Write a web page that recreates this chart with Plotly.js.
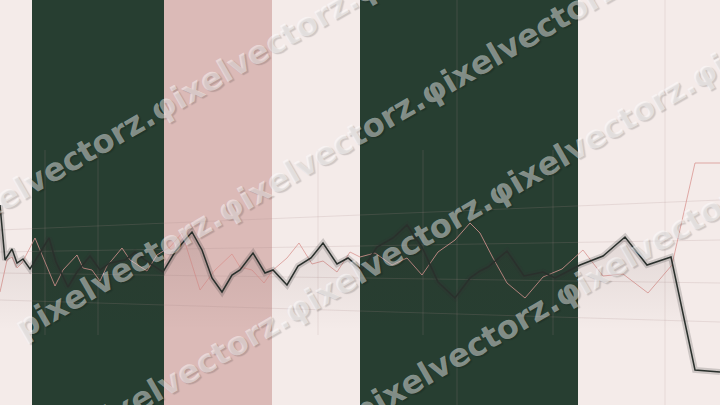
<!DOCTYPE html>
<html><head><meta charset="utf-8">
<script src="https://cdn.plot.ly/plotly-3.0.1.min.js"></script>
<style>html,body{margin:0;padding:0;background:#f4ebe9;overflow:hidden}#chart{width:720px;height:405px}</style>
</head><body><div id="chart"></div>
<script>
// Series (x along the strip, y = level above the bottom)
const xDark = [0,5,12,17,23,30,49,56,68,77,90,100,110,125,135,145,163,175,185,192,202,212,222,232,240,253,265,273,287,298,311,323,337,348,362,377,393,407,422,438,455,470,480,488,507,524,543,555,580,603,625,647,671,695,720];
const yDark = [200,145,156,142,146,136,167,143,118,133,149,135,142,145,153,145,133,153,165,173,155,127,113,130,135,152,132,135,120,139,147,162,141,147,135,158,167,180,158,123,107,127,134,138,154,129,133,127,140,149,168,140,148,35,33];
const xPink = [0,7,12,17,22,35,55,63,77,83,92,100,107,122,130,147,157,170,182,200,215,232,240,252,264,273,287,299,312,323,337,350,360,375,392,407,422,438,455,470,480,493,507,525,543,562,583,603,623,648,672,695,720];
const yPink = [113,145,148,137,142,167,119,135,150,137,135,124,139,157,145,134,150,158,172,115,135,151,138,135,122,135,147,162,141,144,133,153,148,152,140,147,130,153,165,182,172,147,122,107,128,136,155,129,131,112,140,242,242];
const watermarkText = 'pixelvectorz.φixelvectorz.φixelvectorz.φixelvectorz.';

const W = 720, H = 405;
const ANG = 30, FS = 32;
const ctx = document.createElement('canvas').getContext('2d');
ctx.font = 'bold ' + FS + 'px "DejaVu Sans"';
const textW = ctx.measureText(watermarkText).width;
const cosA = Math.cos(ANG*Math.PI/180), sinA = Math.sin(ANG*Math.PI/180);
const rowStarts = [[-49,229],[18,330],[85,431],[152,532]];
const annotations = rowStarts.map(([sx,sy]) => ({
  xref:'paper', yref:'paper',
  x:(sx + cosA*textW/2)/W, y:1 - (sy - sinA*textW/2)/H,
  xanchor:'center', yanchor:'middle', showarrow:false,
  text: watermarkText, textangle:-ANG,
  font:{family:'DejaVu Sans', size:FS, weight:700, color:'rgba(255,255,255,0.45)', shadow:'1px 2px 1px rgba(0,0,0,0.35)'}
}));

const gridCol = 'rgba(170,140,140,0.2)';
const shapes = [
  {type:'rect', xref:'x', yref:'paper', x0:32, x1:164, y0:0, y1:1, fillcolor:'#273e31', line:{width:0}, layer:'below'},
  {type:'rect', xref:'x', yref:'paper', x0:164, x1:272, y0:0, y1:1, fillcolor:'#dbbab7', line:{width:0}, layer:'below'},
  {type:'rect', xref:'x', yref:'paper', x0:360, x1:578, y0:0, y1:1, fillcolor:'#273e31', line:{width:0}, layer:'below'},
  {type:'line', xref:'x', yref:'y', x0:0, x1:720, y0:175, y1:205, line:{color:gridCol, width:1}, layer:'below'},
  {type:'line', xref:'x', yref:'y', x0:0, x1:720, y0:153, y1:165, line:{color:gridCol, width:1}, layer:'below'},
  {type:'line', xref:'x', yref:'y', x0:0, x1:720, y0:132, y1:122, line:{color:gridCol, width:1}, layer:'below'},
  {type:'line', xref:'x', yref:'y', x0:0, x1:720, y0:105, y1:83, line:{color:gridCol, width:1}, layer:'below'}
];
[45,98,318,423,553].forEach(v => shapes.push({type:'line', xref:'x', yref:'y', x0:v, x1:v, y0:70, y1:255, line:{color:gridCol, width:1}, layer:'below'}));
[457,665].forEach(v => shapes.push({type:'line', xref:'x', yref:'paper', x0:v, x1:v, y0:0, y1:1, line:{color:gridCol, width:1}, layer:'below'}));

const traces = [
  {x:xPink, y:yPink, mode:'lines', line:{color:'rgba(218,150,146,0.8)', width:1}, hoverinfo:'skip'},
  {x:xDark, y:yDark, mode:'lines', line:{color:'rgba(50,50,50,0.2)', width:6}, fill:'tozeroy',
   fillgradient:{type:'vertical', start:75, stop:160, colorscale:[[0,'rgba(60,40,40,0)'],[1,'rgba(60,40,40,0.09)']]}, hoverinfo:'skip'},
  {x:xDark, y:yDark, mode:'lines', line:{color:'#2a302c', width:1.5}, hoverinfo:'skip'}
];

const layout = {
  width:W, height:H, margin:{l:0,r:0,t:0,b:0,pad:0},
  paper_bgcolor:'#f4ebe9', plot_bgcolor:'#f4ebe9', showlegend:false,
  xaxis:{range:[0,720], visible:false, fixedrange:true},
  yaxis:{range:[0,405], visible:false, fixedrange:true},
  shapes:shapes, annotations:annotations
};
Plotly.newPlot('chart', traces, layout, {staticPlot:true, displayModeBar:false});
</script></body></html>
